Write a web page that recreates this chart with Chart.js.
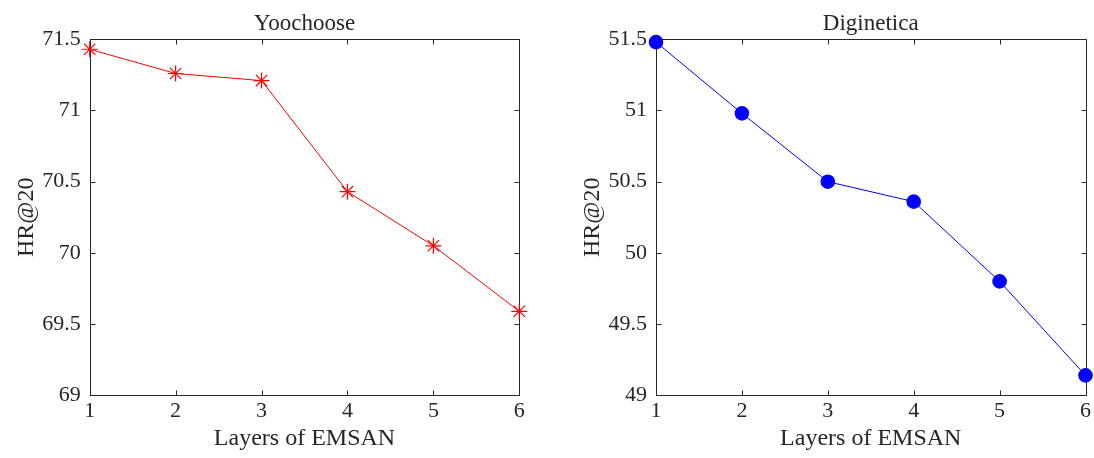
<!DOCTYPE html>
<html>
<head>
<meta charset="utf-8">
<script src="https://cdn.jsdelivr.net/npm/chart.js@4.4.1/dist/chart.umd.min.js"></script>
<style>
  html, body { margin: 0; padding: 0; background: #ffffff; }
  body { width: 1094px; height: 458px; position: relative; overflow: hidden; }
  canvas { position: absolute; top: 0; }
  #c1 { left: 0; }
  #c2 { left: 545px; }
</style>
</head>
<body>
<canvas id="c1" width="545" height="458"></canvas>
<canvas id="c2" width="549" height="458"></canvas>
<script>
// ---- data ----
const layers = ['1', '2', '3', '4', '5', '6'];
const yoochooseHR = [71.43, 71.26, 71.21, 70.43, 70.05, 69.59];
const digineticaHR = [51.48, 50.98, 50.50, 50.36, 49.80, 49.14];
const yoochooseTicks = [69, 71.5, 0.5];   // min, max, step
const digineticaTicks = [49, 51.5, 0.5];
const panelTitles = ['Yoochoose', 'Diginetica'];
const xTitle = 'Layers of EMSAN';
const yTitle = 'HR@20';

const TEXT = '#262626';
const FONT = '"Liberation Serif", "Times New Roman", serif';

const boxPlugin = {
  id: 'matlabBox',
  beforeDatasetsDraw(chart) {
    const { ctx, chartArea: a, scales: { x, y } } = chart;
    const L = Math.round(a.left) + 0.5, R = Math.round(a.right) + 0.5;
    const T = Math.round(a.top) + 0.5, B = Math.round(a.bottom) + 0.5;
    ctx.save();
    ctx.strokeStyle = TEXT;
    ctx.lineWidth = 1;
    ctx.strokeRect(L, T, R - L, B - T);
    const tl = 5;
    ctx.beginPath();
    x.ticks.forEach((t, i) => {
      const px = Math.round(x.getPixelForTick(i)) + 0.5;
      ctx.moveTo(px, B); ctx.lineTo(px, B - tl);
      ctx.moveTo(px, T); ctx.lineTo(px, T + tl);
    });
    y.ticks.forEach((t) => {
      const py = Math.round(y.getPixelForValue(t.value)) + 0.5;
      ctx.moveTo(L, py); ctx.lineTo(L + tl, py);
      ctx.moveTo(R, py); ctx.lineTo(R - tl, py);
    });
    ctx.stroke();
    ctx.restore();
  }
};

function makeChart(id, title, values, tickSpec, color, pointStyle, radius, yWidth, yTitlePad, padRight) {
  return new Chart(document.getElementById(id), {
    type: 'line',
    data: {
      labels: layers,
      datasets: [{
        data: values,
        borderColor: color,
        backgroundColor: color,
        borderWidth: 1,
        pointStyle: pointStyle,
        pointRadius: radius,
        pointHoverRadius: radius,
        pointBorderColor: color,
        pointBackgroundColor: color,
        pointBorderWidth: 1.2,
        tension: 0,
        clip: false
      }]
    },
    options: {
      responsive: false,
      animation: false,
      events: [],
      layout: { padding: { left: 0, right: padRight, top: 0, bottom: 0 } },
      plugins: {
        legend: { display: false },
        tooltip: { enabled: false },
        title: {
          display: true,
          text: title,
          fullSize: false,
          color: TEXT,
          font: { family: FONT, size: 23, weight: 'normal', lineHeight: 1.2 },
          padding: { top: 10, bottom: 1.7 }
        }
      },
      scales: {
        x: {
          type: 'category',
          offset: false,
          grid: { display: false, drawTicks: false },
          border: { display: false },
          ticks: { color: TEXT, font: { family: FONT, size: 22 }, padding: 3, maxRotation: 0, autoSkip: false },
          title: { display: true, text: xTitle, color: TEXT, font: { family: FONT, size: 24, lineHeight: 1.2 }, padding: { top: 0, bottom: 4.4 } },
          afterFit(s) { s.height = 62.7; }
        },
        y: {
          type: 'linear',
          min: tickSpec[0],
          max: tickSpec[1],
          grid: { display: false, drawTicks: false },
          border: { display: false },
          ticks: {
            stepSize: tickSpec[2],
            color: TEXT,
            font: { family: FONT, size: 22 },
            padding: 9,
            callback: (v) => String(Math.round(v * 10) / 10)
          },
          title: { display: true, text: yTitle, color: TEXT, font: { family: FONT, size: 24, lineHeight: 1.2 }, padding: { top: yTitlePad, bottom: 0 } },
          afterFit(s) { s.width = yWidth; }
        }
      }
    },
    plugins: [boxPlugin]
  });
}

makeChart('c1', panelTitles[0], yoochooseHR, yoochooseTicks, '#ff0000', 'star', 8, 89.7, 12.5, 25.7);
makeChart('c2', panelTitles[1], digineticaHR, digineticaTicks, '#0000ff', 'circle', 6.7, 111, 33.5, 8);
</script>
</body>
</html>
